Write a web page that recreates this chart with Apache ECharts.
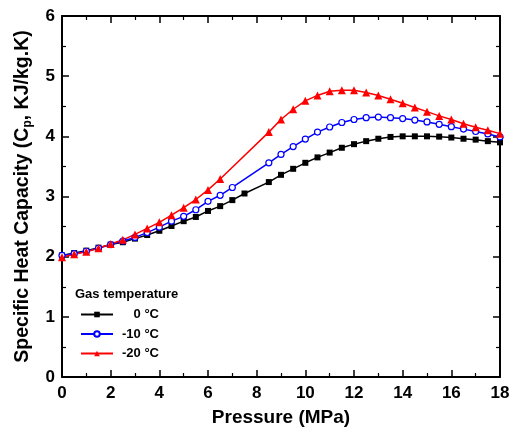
<!DOCTYPE html>
<html><head><meta charset="utf-8">
<script src="https://cdn.jsdelivr.net/npm/echarts@6/dist/echarts.min.js"></script>
<style>html,body{margin:0;padding:0;background:#fff}#c{width:517px;height:427px}</style>
</head><body><div id="c"></div>
<script>
var seriesNames = ['0 °C', '-10 °C', '-20 °C'];
var xTicks = [0, 2, 4, 6, 8, 10, 12, 14, 16, 18];
var yTicks = [0, 1, 2, 3, 4, 5, 6];

var p0 = [0,0.5,1,1.5,2,2.5,3,3.5,4,4.5,5,5.5,6,6.5,7,7.5,8.5,9,9.5,10,10.5,11,11.5,12,12.5,13,13.5,14,14.5,15,15.5,16,16.5,17,17.5,18];
var cp0 = [2.02,2.06,2.10,2.15,2.20,2.24,2.30,2.36,2.43,2.51,2.59,2.66,2.76,2.84,2.94,3.05,3.24,3.36,3.46,3.56,3.65,3.73,3.81,3.87,3.92,3.96,3.99,4.00,4.00,4.00,3.995,3.98,3.96,3.945,3.92,3.90];

var p10 = [0,0.5,1,1.5,2,2.5,3,3.5,4,4.5,5,5.5,6,6.5,7,8.5,9,9.5,10,10.5,11,11.5,12,12.5,13,13.5,14,14.5,15,15.5,16,16.5,17,17.5,18];
var cp10 = [2.02,2.05,2.09,2.14,2.20,2.26,2.32,2.40,2.49,2.59,2.67,2.78,2.92,3.02,3.15,3.56,3.70,3.83,3.955,4.07,4.155,4.23,4.28,4.31,4.32,4.31,4.295,4.27,4.24,4.20,4.16,4.12,4.08,4.04,3.99];

var p20 = [0,0.5,1,1.5,2,2.5,3,3.5,4,4.5,5,5.5,6,6.5,8.5,9,9.5,10,10.5,11,11.5,12,12.5,13,13.5,14,14.5,15,15.5,16,16.5,17,17.5,18];
var cp20 = [1.99,2.04,2.08,2.14,2.21,2.28,2.37,2.47,2.57,2.69,2.815,2.95,3.11,3.29,4.07,4.28,4.45,4.59,4.68,4.75,4.765,4.765,4.73,4.68,4.615,4.55,4.48,4.41,4.34,4.28,4.21,4.15,4.10,4.045];

function pairs(xs, ys){ return xs.map(function(x,i){ return [x, ys[i]]; }); }

var FONT = '"Liberation Sans", Arial, sans-serif';
function axisBase(extra){
  var o = {
    type: 'value',
    axisLine: {show: true, onZero: false, lineStyle: {color: '#000', width: 2}},
    axisTick: {show: true, inside: true, length: 7, lineStyle: {color: '#000', width: 1.5}},
    minorTick: {show: true, splitNumber: 2, length: 4, lineStyle: {color: '#000', width: 1.2}},
    splitLine: {show: false},
    minorSplitLine: {show: false}
  };
  for (var k in extra) o[k] = extra[k];
  return o;
}
var chart = echarts.init(document.getElementById('c'), null, {renderer: 'canvas'});
chart.setOption({
  animation: false,
  backgroundColor: '#fff',
  grid: {left: 62, right: 17, top: 16, bottom: 50, containLabel: false, outerBoundsMode: 'none'},
  title: {text: 'Gas temperature', left: 75, top: 288, padding: 0,
    textStyle: {fontFamily: FONT, fontWeight: 'bold', fontSize: 13, color: '#000'}},
  legend: {
    orient: 'vertical', left: 80, top: 308, padding: 0, itemGap: 6.5,
    itemWidth: 32, itemHeight: 7, itemTextGap: 4,
    data: seriesNames,
    formatter: function(n){ return '{r|' + n + '}'; },
    textStyle: {fontFamily: FONT, fontWeight: 'bold', fontSize: 13, color: '#000',
      rich: {r: {width: 41, align: 'right', fontFamily: FONT, fontWeight: 'bold', fontSize: 13, color: '#000'}}}
  },
  xAxis: [
    axisBase({
      position: 'bottom', min: 0, max: 18, interval: 2,
      name: 'Pressure (MPa)', nameLocation: 'middle', nameGap: 31,
      nameTextStyle: {fontFamily: FONT, fontWeight: 'bold', fontSize: 19, color: '#000'},
      axisLabel: {fontFamily: FONT, fontWeight: 'bold', fontSize: 17, color: '#000', margin: 8,
        formatter: function(v){ return xTicks.indexOf(v) >= 0 ? String(v) : ''; }}
    }),
    axisBase({
      position: 'top', min: 0, max: 18, interval: 2, axisLabel: {show: false}
    })
  ],
  yAxis: [
    axisBase({
      position: 'left', min: 0, max: 6, interval: 1,
      name: 'Specific Heat Capacity (C{sub|p}, KJ/kg.K)', nameLocation: 'middle', nameGap: 28,
      nameTextStyle: {fontFamily: FONT, fontWeight: 'bold', fontSize: 19.5, color: '#000',
        rich: {sub: {fontFamily: FONT, fontWeight: 'bold', fontSize: 12, color: '#000', padding: [11, 0, 0, 0]}}},
      axisLabel: {fontFamily: FONT, fontWeight: 'bold', fontSize: 17, color: '#000', margin: 7,
        formatter: function(v){ return yTicks.indexOf(v) >= 0 ? String(v) : ''; }}
    }),
    axisBase({
      position: 'right', min: 0, max: 6, interval: 1, axisLabel: {show: false}
    })
  ],
  series: [
    {name: seriesNames[0], type: 'line', data: pairs(p0, cp0), symbol: 'rect', symbolSize: 6,
      lineStyle: {color: '#000', width: 1.5}, itemStyle: {color: '#000'}},
    {name: seriesNames[1], type: 'line', data: pairs(p10, cp10), symbol: 'circle', symbolSize: 6,
      lineStyle: {color: '#0000ff', width: 1.5}, itemStyle: {color: '#fff', borderColor: '#0000ff', borderWidth: 1.2}},
    {name: seriesNames[2], type: 'line', data: pairs(p20, cp20), symbol: 'triangle', symbolSize: 8,
      lineStyle: {color: '#ff0000', width: 1.5}, itemStyle: {color: '#ff0000'}}
  ]
});
</script></body></html>
